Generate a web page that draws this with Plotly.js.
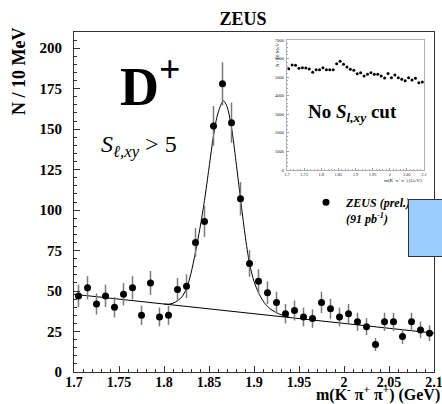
<!DOCTYPE html>
<html><head><meta charset="utf-8">
<script src="https://cdn.plot.ly/plotly-3.0.1.min.js"></script>
<style>html,body{margin:0;padding:0;background:#fff}#chart{width:442px;height:404px}</style>
</head><body><div id="chart"></div>
<script>
// Main histogram: D+ candidates, S_l,xy > 5
const massBins = [1.705,1.715,1.725,1.735,1.745,1.755,1.765,1.775,1.785,1.795,
                  1.805,1.815,1.825,1.835,1.845,1.855,1.865,1.875,1.885,1.895,
                  1.905,1.915,1.925,1.935,1.945,1.955,1.965,1.975,1.985,1.995,
                  2.005,2.015,2.025,2.035,2.045,2.055,2.065,2.075,2.085,2.095];
const counts = [47,52,42,47,40,48,52,35,55,34,
                35,51,53,80,93,152,178,154,107,67,
                56,49,43,36,38,34,33,43,39,34,
                36,31,28,17,31,31,22,31,26,24];
const countErrors = [6.9,7.2,6.5,6.9,6.3,6.9,7.2,5.9,7.4,5.8,
                     5.9,7.1,7.3,8.9,9.6,12.3,13.3,12.4,10.3,8.2,
                     7.5,7.0,6.6,6.0,6.2,5.8,5.7,6.6,6.2,5.8,
                     6.0,5.6,5.3,4.1,5.6,5.6,4.7,5.6,5.1,4.9];
// Fit curve (signal + background)
const fitX = [1.80,1.805,1.81,1.815,1.82,1.825,1.83,1.835,1.84,1.845,1.85,1.855,1.86,1.866,
              1.87,1.875,1.88,1.885,1.89,1.895,1.90,1.905,1.91,1.915,1.92,1.925,1.93,1.935,1.94];
const fitY = [42.0,41.9,42.5,44.0,46.5,51.5,61,74,89,106,126,146,160,167.5,
              164,151,130,107,85,67,56,49,44,40.5,38.2,36.6,35.4,34.5,33.7];
// Linear background
const bgX = [1.7, 2.1];
const bgY = [48, 24];
// Inset: no S_l,xy cut
const insetCounts = [5455,5650,5635,5475,5510,5490,5440,5260,5400,5400,
                     5510,5400,5400,5400,5725,5850,5690,5545,5420,5365,
                     5185,5240,5060,5150,5240,5150,5150,5060,4955,5200,
                     4970,5115,4970,4880,4810,4970,4845,4935,4700,4740];
// Tick labels
const xTickVals = [1.7,1.75,1.8,1.85,1.9,1.95,2.0,2.05,2.1];
const xTickText = ['1.7','1.75','1.8','1.85','1.9','1.95','2','2.05','2.1'];
const yTickVals = [0,25,50,75,100,125,150,175,200];
const yTickText = ['0','25','50','75','100','125','150','175','200'];
const insetYTickVals = [0,1000,2000,3000,4000,5000,6000,7000];
const insetYTickText = ['0','1000','2000','3000','4000','5000','6000','7000'];

const serif = 'Liberation Serif, Times New Roman, serif';
const L = 74, R = 434, T = 32, B = 372;
function px(x){ return (x - L) / (R - L); }
function py(y){ return (B - y) / (B - T); }

const traces = [
  {x: bgX, y: bgY, mode: 'lines', line: {color: '#000', width: 1}, showlegend: false, hoverinfo: 'skip'},
  {x: fitX, y: fitY, mode: 'lines', line: {color: '#000', width: 1, shape: 'spline', smoothing: 0.8}, showlegend: false, hoverinfo: 'skip'},
  {x: massBins, y: counts, mode: 'markers', type: 'scatter',
   name: 'ZEUS (prel.) 96-97<br>(91 pb<sup>-1</sup>)',
   marker: {color: '#000', size: 7},
   error_y: {type: 'data', array: countErrors, visible: true, color: '#7a7a7a', thickness: 1.5, width: 0}},
  {x: massBins, y: insetCounts, xaxis: 'x2', yaxis: 'y2', mode: 'markers',
   marker: {color: '#000', size: 3}, showlegend: false}
];

const axisCommon = {
  showgrid: false, zeroline: false, showline: true, mirror: true,
  linecolor: '#333', linewidth: 1, ticks: 'inside', tickcolor: '#333'
};

const layout = {
  width: 442, height: 404,
  margin: {l: L, r: 442 - R, t: T, b: 404 - B, autoexpand: false},
  paper_bgcolor: '#fff', plot_bgcolor: '#fff',
  title: {text: 'ZEUS', x: 243/442, xref: 'container', xanchor: 'center',
          y: 1 - 19/404, yref: 'container', yanchor: 'middle',
          font: {family: serif, size: 18, weight: 'bold', color: '#000'}},
  xaxis: Object.assign({}, axisCommon, {
    range: [1.7, 2.1], tickmode: 'array', tickvals: xTickVals, ticktext: xTickText,
    ticklen: 6, ticklabeloverflow: 'allow', ticklabelstandoff: -3, automargin: false,
    tickfont: {family: serif, size: 14, weight: 'bold', color: '#000'},
    minor: {dtick: 0.01, tick0: 1.7, ticklen: 3, ticks: 'inside', tickcolor: '#333'}
  }),
  yaxis: Object.assign({}, axisCommon, {
    range: [0, 210], tickmode: 'array', tickvals: yTickVals, ticktext: yTickText,
    ticklen: 6, ticklabelstandoff: 8, automargin: false,
    tickfont: {family: serif, size: 15, weight: 'bold', color: '#000'},
    minor: {dtick: 5, tick0: 0, ticklen: 3, ticks: 'inside', tickcolor: '#333'}
  }),
  xaxis2: Object.assign({}, axisCommon, {
    domain: [px(287), px(424)], anchor: 'y2', range: [1.7, 2.1],
    tickmode: 'array', tickvals: xTickVals, ticktext: xTickText,
    linecolor: '#b0b0b0', tickcolor: '#999', ticklen: 2, ticklabelstandoff: 0,
    tickfont: {family: serif, size: 4.5, color: '#222'},
    minor: {dtick: 0.01, tick0: 1.7, ticklen: 1, ticks: 'inside', tickcolor: '#aaa'}
  }),
  yaxis2: Object.assign({}, axisCommon, {
    domain: [py(170), py(40)], anchor: 'x2', range: [0, 7000],
    tickmode: 'array', tickvals: insetYTickVals, ticktext: insetYTickText,
    linecolor: '#b0b0b0', tickcolor: '#999', ticklen: 2, ticklabelstandoff: 1,
    tickfont: {family: serif, size: 4.5, color: '#222'},
    minor: {dtick: 200, ticklen: 1, ticks: 'inside', tickcolor: '#aaa'}
  }),
  showlegend: true,
  legend: {x: px(306), xanchor: 'left', y: py(188), yanchor: 'top',
           bgcolor: 'rgba(0,0,0,0)', valign: 'top', tracegroupgap: 0,
           font: {family: serif, size: 12, weight: 'bold', style: 'italic', color: '#000'}},
  annotations: [
    {text: 'D<sup>+</sup>', xref: 'paper', yref: 'paper', x: px(118), y: py(82),
     xanchor: 'left', yanchor: 'middle', showarrow: false,
     font: {family: serif, size: 54, weight: 'bold', color: '#000'}},
    {text: '<i>S</i><sub><i>ℓ,xy</i></sub> &gt; 5', xref: 'paper', yref: 'paper', x: px(99), y: py(146),
     xanchor: 'left', yanchor: 'middle', showarrow: false,
     font: {family: serif, size: 24, color: '#000'}},
    {text: 'No <i>S</i><sub><i>l,xy</i></sub> cut', xref: 'paper', yref: 'paper', x: px(352), y: py(113),
     xanchor: 'center', yanchor: 'middle', showarrow: false,
     font: {family: serif, size: 19, weight: 'bold', color: '#000'}},
    {text: 'N / 10 MeV', xref: 'paper', yref: 'paper', x: px(19), y: py(71), textangle: -90,
     xanchor: 'center', yanchor: 'middle', showarrow: false,
     font: {family: serif, size: 18, weight: 'bold', color: '#000'}},
    {text: 'm(K<sup>-</sup> π<sup>+</sup> π<sup>+</sup>) (GeV)', xref: 'paper', yref: 'paper', x: px(441), y: py(405),
     xanchor: 'right', yanchor: 'bottom', showarrow: false, borderpad: 0,
     font: {family: serif, size: 16, weight: 'bold', color: '#000'}},
    {text: 'N / 10 MeV', xref: 'paper', yref: 'paper', x: px(278), y: py(55), textangle: -90,
     xanchor: 'center', yanchor: 'middle', showarrow: false,
     font: {family: serif, size: 5, color: '#222'}},
    {text: 'm(K<sup>-</sup> π<sup>+</sup> π<sup>+</sup>) (GeV)', xref: 'paper', yref: 'paper', x: px(424), y: py(180),
     xanchor: 'right', yanchor: 'middle', showarrow: false,
     font: {family: serif, size: 5, color: '#222'}},
    {text: '\u00a0', xref: 'paper', yref: 'paper', x: px(408), y: py(199),
     xanchor: 'left', yanchor: 'top', showarrow: false, width: 40, height: 56,
     bgcolor: '#99ccff', bordercolor: '#333', borderwidth: 1, borderpad: 0}
  ]
};

Plotly.newPlot('chart', traces, layout, {displayModeBar: false, staticPlot: true});
</script>
</body></html>
